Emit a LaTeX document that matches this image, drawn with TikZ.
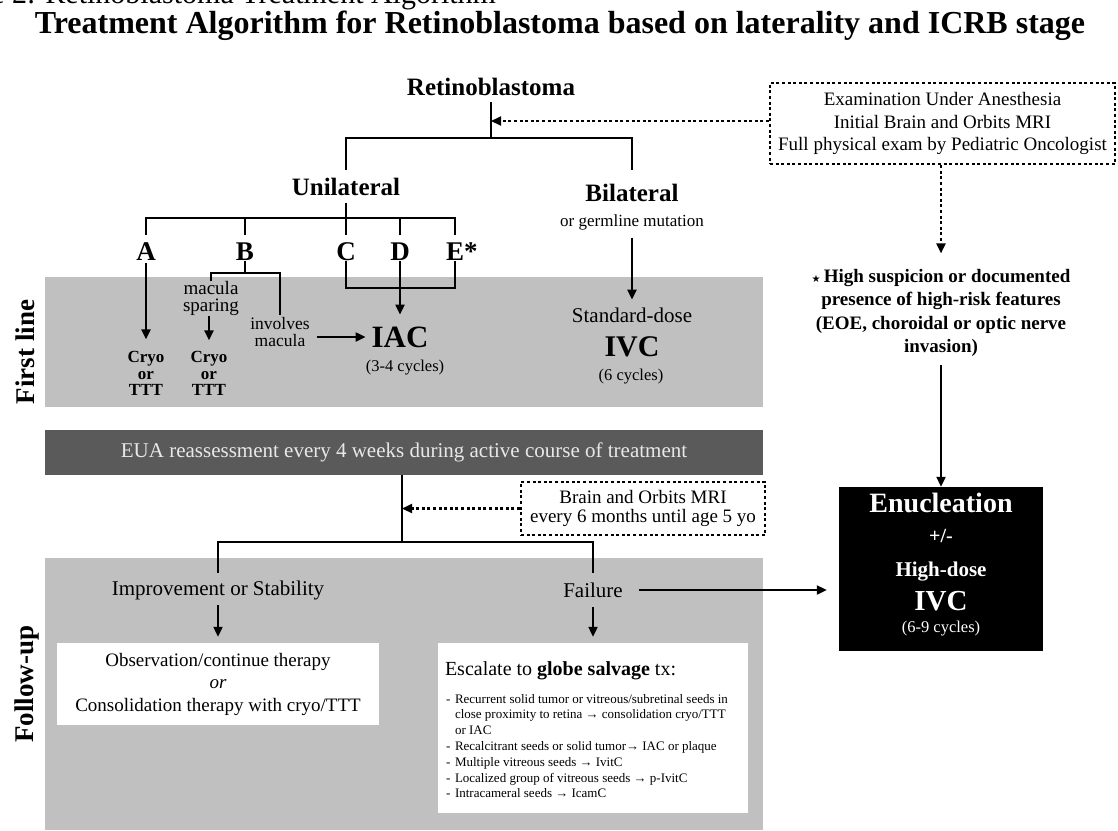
\documentclass[tikz,border=0pt]{standalone}
\usepackage{fontspec}
\setmainfont{Liberation Serif}
\newfontfamily\symfont{DejaVu Sans}
\usetikzlibrary{arrows.meta}
\newcommand\myfs[2]{\fontsize{#1}{#2}\selectfont}
\definecolor{bandgray}{HTML}{C0C0C0}
\definecolor{bargray}{HTML}{5A5A5A}
\definecolor{bartext}{HTML}{E8E8E8}
\begin{document}
\begin{tikzpicture}[x=1pt,y=-1pt,
  conn/.style={line width=2.1pt},
  arr/.style={conn,-{Triangle[length=10pt,width=9pt]}},
  dsh/.style={line width=2.2pt,dash pattern=on 3pt off 2.6pt},
  darr/.style={dsh,-{Triangle[length=10pt,width=9pt]}},
  txt/.style={inner sep=0pt,outer sep=0pt,align=center},
  head/.style={txt,font=\myfs{25}{25}\bfseries},
  letter/.style={txt,font=\myfs{27}{27}\bfseries},
  cryo/.style={txt,font=\myfs{17}{16.5}\bfseries},
  side/.style={txt,rotate=90,font=\myfs{27}{27}\bfseries},
  wtxt/.style={txt,text=white,anchor=base},
]
\useasboundingbox (0,0) rectangle (1118,830);

% titles
\node[txt,anchor=base east,font=\myfs{30}{32}] (fig) at (496,3) {Figure 2: Retinoblastoma Treatment Algorithm};
\node[txt,anchor=base,font=\myfs{32}{34}\bfseries] (title) at (560,33) {Treatment Algorithm for Retinoblastoma based on laterality and ICRB stage};

% bands
\fill[bandgray] (45,277) rectangle (763,407);
\fill[bandgray] (45,558) rectangle (763,830);
\node[fill=bargray,minimum width=718pt,minimum height=45pt,inner sep=0pt,text=bartext,font=\myfs{21}{24}] (eua) at (404,452.5) {EUA reassessment every 4 weeks during active course of treatment};

\node[side] (lfirst) at (25,352) {First line};
\node[side] (lfollow) at (27,684) {Follow-up};

% top tree
\node[head] (retino) at (491,87) {Retinoblastoma};
\coordinate (jR) at (491,138);
\coordinate (jE) at (491,121);
\node[head] (uni) at (346,187) {Unilateral};
\node[head] (bi) at (632,193) {Bilateral};
\node[txt,font=\myfs{17}{17}] (germ) at (632,222) {or germline mutation};
\draw[conn] ([yshift=-6.5pt]retino.south) -- (jR);
\draw[conn] ([yshift=8pt]uni.north) |- (jR) -| ([yshift=14pt]bi.north);

\node[letter] (A) at (146,252) {A};
\node[letter] (B) at (245,252) {B};
\node[letter] (C) at (346,252) {C};
\node[letter] (D) at (400,252) {D};
\node[letter] (E) at (455,252) {E\rlap{*}};
\coordinate (hU) at (346,218);
\draw[conn] ([yshift=-7pt]uni.south) -- ([yshift=8pt]C.north);
\draw[conn] ([yshift=8pt]A.north) |- (hU) -| ([yshift=8pt]E.north);
\draw[conn] ([yshift=8pt]B.north) -- (B.north |- hU);
\draw[conn] ([yshift=8pt]D.north) -- (D.north |- hU);

% first line contents
\node[cryo] (cryoA) at (146,373.5) {Cryo\\or\\TTT};
\node[cryo] (cryoB) at (209,373.5) {Cryo\\or\\TTT};
\node[txt,font=\myfs{19}{17}] (spar) at (211,298.5) {macula\\sparing};
\node[txt,font=\myfs{17.5}{16.5}] (inv) at (280,332) {involves\\macula};
\node[txt,font=\myfs{31}{31}\bfseries] (IAC) at (400,337) {IAC};
\node[txt,font=\myfs{16.5}{16.5}] (cyc34) at (405,368) {(3-4 cycles)};
\coordinate (hB) at (245,273);
\coordinate (hC) at (400,288);
\draw[arr] ([yshift=-2pt]A.south) -- ([yshift=12pt]cryoA.north);
\draw[conn] (B.south) -- (hB);
\draw[conn] (spar.north) |- (hB) -| ([yshift=3pt]inv.north);
\draw[arr] (spar.south -| cryoB) -- ([yshift=11pt]cryoB.north);
\draw[arr,shorten <=7pt,shorten >=6pt] (inv.east |- IAC) -- (IAC.west);
\draw[conn] (C.south) |- (hC) -| (E.south);
\draw[arr] (D.south) -- ([yshift=12pt]IAC.north);

\node[txt,font=\myfs{21}{21}] (std) at (632,315) {Standard-dose};
\node[txt,font=\myfs{30}{30}\bfseries] (IVC) at (632,347) {IVC};
\node[txt,font=\myfs{16.5}{16.5}] (cyc6) at (631,377) {(6 cycles)};
\draw[arr] ([yshift=-8pt]germ.south) -- ([yshift=8pt]std.north);

% right column
\node[dsh,draw,minimum width=345pt,minimum height=81pt,align=center,inner sep=0pt,font=\myfs{19}{22.5}] (exam) at (942.5,123.5) {Examination Under Anesthesia\\Initial Brain and Orbits MRI\\Full physical exam by Pediatric Oncologist};
\draw[darr] (exam.west |- jE) -- (jE);
\node[txt,font=\myfs{19}{23.3}\bfseries] (hs) at (941,313) {{\symfont\myfs{10}{10}\char"2605}\,High suspicion or documented\\presence of high-risk features\\(EOE, choroidal or optic nerve\\invasion)};
\draw[darr] (exam.south -| hs) -- ([yshift=16pt]hs.north);

\node[fill=black,minimum width=204pt,minimum height=164pt,inner sep=0pt] (enuc) at (941,569) {};
\node[wtxt,font=\myfs{28}{28}\bfseries] (en1) at (941,512) {Enucleation};
\node[wtxt,font=\myfs{20}{20}\bfseries] (en2) at (941,542) {+/-};
\node[wtxt,font=\myfs{21}{21}\bfseries] (en3) at (941,576) {High-dose};
\node[wtxt,font=\myfs{29}{29}\bfseries] (en4) at (941,610) {IVC};
\node[wtxt,font=\myfs{16.5}{16.5}] (en5) at (941,632) {(6-9 cycles)};
\draw[arr] ([yshift=-8.5pt]hs.south) -- (enuc.north);

% follow-up
\coordinate (jF) at (402,542);
\node[dsh,draw,minimum width=244pt,minimum height=53pt,align=center,inner sep=0pt,font=\myfs{19}{18.5}] (mri) at (643,508.5) {Brain and Orbits MRI\\every 6 months until age 5 yo};
\draw[conn] (eua.south -| jF) -- (jF);
\draw[darr] (mri.west) -- (mri.west -| jF);

\node[txt,font=\myfs{21}{21}] (imp) at (218,590) {Improvement or Stability};
\node[txt,font=\myfs{21}{21}] (fail) at (593,590) {Failure};
\draw[conn] ([yshift=7.5pt]imp.north) |- (jF) -| ([yshift=10pt]fail.north);

\node[fill=white,minimum width=322pt,minimum height=82pt,align=center,inner sep=0pt,font=\myfs{19}{22.5}] (obs) at (218,684) {Observation/continue therapy\\\textit{or}\\Consolidation therapy with cryo/TTT};
\node[fill=white,minimum width=310pt,minimum height=170pt,inner sep=0pt] (esc) at (593,728) {};
\node[txt,anchor=base west,font=\myfs{20}{20}] (esch) at (445,675) {Escalate to \textbf{globe salvage} tx:};
\node[txt,anchor=north west,align=left,font=\myfs{13}{15.8}] (escl) at (446,694) {%
\makebox[9pt][l]{-}Recurrent solid tumor or vitreous/subretinal seeds in\\
\hspace*{9pt}close proximity to retina → consolidation cryo/TTT\\
\hspace*{9pt}or IAC\\
\makebox[9pt][l]{-}Recalcitrant seeds or solid tumor→ IAC or plaque\\
\makebox[9pt][l]{-}Multiple vitreous seeds → IvitC\\
\makebox[9pt][l]{-}Localized group of vitreous seeds → p-IvitC\\
\makebox[9pt][l]{-}Intracameral seeds → IcamC};

\draw[arr] ([yshift=-5.5pt]imp.south) -- ([yshift=6pt]obs.north);
\draw[arr] ([yshift=-10pt]fail.south) -- ([yshift=6pt]esc.north);
\draw[arr,shorten <=16pt,shorten >=12pt] (fail.east) -- (fail.east -| enuc.west);
\end{tikzpicture}
\end{document}
